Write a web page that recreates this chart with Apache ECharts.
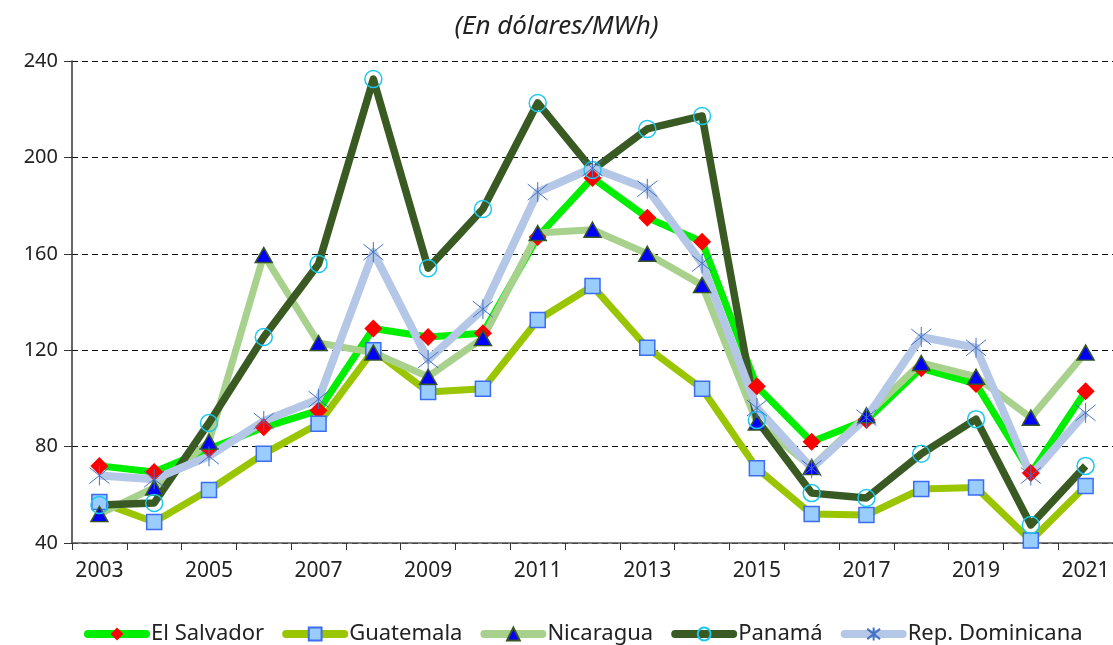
<!DOCTYPE html>
<html>
<head>
<meta charset="utf-8">
<script src="https://cdn.jsdelivr.net/npm/echarts@6/dist/echarts.min.js"></script>
<style>
  html, body { margin: 0; padding: 0; background: #fff; }
  #chart { width: 1113px; height: 645px; }
</style>
</head>
<body>
<div id="chart"></div>
<script>
// years on the x axis
var years = ['2003', '2004', '2005', '2006', '2007', '2008', '2009', '2010', '2011', '2012',
    '2013', '2014', '2015', '2016', '2017', '2018', '2019', '2020', '2021'];

// prices per country (USD/MWh)
var elSalvador = [72, 69.5, 79, 88, 95, 129, 125.5, 127, 167, 191.5, 175, 165, 105, 82, 91, 112.5, 106, 69, 103];
var guatemala = [57, 48.7, 62, 77, 89.5, 120, 102.7, 104, 132.5, 146.6, 121, 104, 71, 52, 51.6, 62.4, 63, 41, 63.6];
var nicaragua = [52, 63, 82, 159.5, 123, 119, 109, 125, 168.6, 170, 160, 147, 90, 71.5, 93, 114.7, 109, 92, 119];
var panama = [55.8, 56.6, 89.8, 125.5, 155.8, 232.5, 154, 178.6, 222.6, 194.8, 211.8, 217.2, 91, 60.7, 58.7, 77, 91.4, 47.5, 72];
var repDominicana = [68, 66.5, 76, 90.6, 99.7, 160.7, 116, 137, 185.6, 195.6, 187, 156, 96, 71, 92, 125.5, 121, 68, 94];

var asterisk = 'path://M0,-10L0,10M-8,-8L8,8M-8,8L8,-8';
var font = 'Noto Sans';

var chart = echarts.init(document.getElementById('chart'));

function lineSeries(name, data, lineColor, width, symbol, size, fill, border, borderWidth) {
    return {
        name: name,
        type: 'line',
        data: data,
        symbol: symbol,
        symbolSize: size,
        showAllSymbol: true,
        lineStyle: { color: lineColor, width: width, join: 'round' },
        itemStyle: { color: fill, borderColor: border, borderWidth: borderWidth },
        emphasis: { disabled: true },
        z: 2
    };
}

var option = {
    animation: false,
    textStyle: { fontFamily: font },
    title: {
        text: '(En dólares/MWh)',
        left: 'center',
        top: 9,
        textStyle: { fontFamily: font, fontSize: 26, fontStyle: 'italic', fontWeight: 'normal', color: '#222' }
    },
    grid: { left: 72, right: 0, top: 61, bottom: 102 },
    legend: {
        bottom: 0,
        left: 84,
        width: 1029,
        padding: 0,
        itemWidth: 58,
        itemHeight: 16,
        itemGap: 18,
        lineStyle: { width: 8, cap: 'round' },
        textStyle: { fontFamily: font, fontSize: 22, color: '#222' },
        data: ['El Salvador', 'Guatemala', 'Nicaragua', 'Panamá', 'Rep. Dominicana']
    },
    xAxis: {
        type: 'category',
        data: years,
        boundaryGap: true,
        axisLine: { lineStyle: { color: '#555', width: 1.5 } },
        axisTick: { show: true, interval: 0, length: 7, lineStyle: { color: '#333' } },
        axisLabel: { interval: 1, fontSize: 21, color: '#222', margin: 18 }
    },
    yAxis: {
        type: 'value',
        min: 40,
        max: 240,
        interval: 40,
        axisLine: { show: true, lineStyle: { color: '#333', width: 1.5 } },
        axisTick: { show: true, length: 8, lineStyle: { color: '#333' } },
        axisLabel: { fontSize: 20, color: '#222', margin: 14 },
        splitLine: { lineStyle: { color: '#111', type: [6, 4], width: 1.2 } }
    },
    series: [
        lineSeries('El Salvador', elSalvador, '#00ee00', 7, 'diamond', [18, 18], '#ff0000', '#ff0000', 0),
        lineSeries('Guatemala', guatemala, '#99c600', 7, 'rect', [15, 15], '#99ccff', '#3c6cf0', 1.5),
        lineSeries('Nicaragua', nicaragua, '#a9d18e', 7, 'triangle', [17, 15], '#0000ff', '#375623', 1.5),
        lineSeries('Panamá', panama, '#3a5a24', 7.5, 'circle', [17, 17], 'rgba(0,0,0,0)', '#1cc7f0', 1.5),
        lineSeries('Rep. Dominicana', repDominicana, '#b4c7e7', 8, asterisk, [20, 20], 'none', '#4472c4', 1)
    ]
};

chart.setOption(option);
</script>
</body>
</html>
